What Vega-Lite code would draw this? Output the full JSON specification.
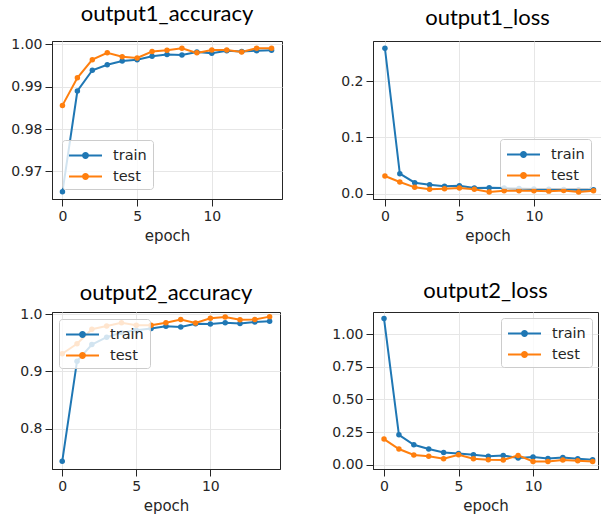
{
  "$schema": "https://vega.github.io/schema/vega-lite/v6.json",
  "background": "white",
  "padding": {"left": 10, "top": 2, "right": 0, "bottom": 2},
  "config": {
    "view": {"stroke": "#262626", "strokeWidth": 1},
    "axis": {
      "labelFont": "DejaVu Sans", "labelFontSize": 14, "labelColor": "#262626",
      "titleFont": "DejaVu Sans", "titleFontSize": 15, "titleFontWeight": "normal", "titleColor": "#262626",
      "tickColor": "#262626", "tickSize": 7, "domainColor": "#262626",
      "gridColor": "#e6e6e6", "labelPadding": 3, "titlePadding": 5
    },
    "title": {"font": "Lato", "fontSize": 22, "fontWeight": "normal", "color": "black", "baseline": "alphabetic", "offset": 11, "frame": "group", "anchor": "middle"},
    "legend": {
      "title": null, "fillColor": "rgba(255,255,255,0.8)", "strokeColor": "#cccccc", "cornerRadius": 3,
      "padding": 6, "rowPadding": 5, "offset": 8, "labelFont": "DejaVu Sans", "labelFontSize": 14.5, "labelColor": "#262626",
      "symbolType": "M-2,0H2M-0.3,0A0.3,0.3,0,1,0,0.3,0A0.3,0.3,0,1,0,-0.3,0",
      "symbolSize": 272, "symbolStrokeWidth": 2, "symbolOffset": 8, "labelOffset": 18, "zindex": 1
    }
  },
  "datasets": {
    "p1": [
      {"epoch":0,"series":"train","value":0.9652},{"epoch":1,"series":"train","value":0.9890},{"epoch":2,"series":"train","value":0.9939},{"epoch":3,"series":"train","value":0.9952},{"epoch":4,"series":"train","value":0.9961},{"epoch":5,"series":"train","value":0.9964},{"epoch":6,"series":"train","value":0.9972},{"epoch":7,"series":"train","value":0.9976},{"epoch":8,"series":"train","value":0.9975},{"epoch":9,"series":"train","value":0.9982},{"epoch":10,"series":"train","value":0.9979},{"epoch":11,"series":"train","value":0.9985},{"epoch":12,"series":"train","value":0.9983},{"epoch":13,"series":"train","value":0.9985},{"epoch":14,"series":"train","value":0.9986},
      {"epoch":0,"series":"test","value":0.9856},{"epoch":1,"series":"test","value":0.9921},{"epoch":2,"series":"test","value":0.9964},{"epoch":3,"series":"test","value":0.9980},{"epoch":4,"series":"test","value":0.9971},{"epoch":5,"series":"test","value":0.9968},{"epoch":6,"series":"test","value":0.9983},{"epoch":7,"series":"test","value":0.9986},{"epoch":8,"series":"test","value":0.9991},{"epoch":9,"series":"test","value":0.9980},{"epoch":10,"series":"test","value":0.9987},{"epoch":11,"series":"test","value":0.9987},{"epoch":12,"series":"test","value":0.9982},{"epoch":13,"series":"test","value":0.9991},{"epoch":14,"series":"test","value":0.9991}
    ],
    "p2": [
      {"epoch":0,"series":"train","value":0.2586},{"epoch":1,"series":"train","value":0.0355},{"epoch":2,"series":"train","value":0.0195},{"epoch":3,"series":"train","value":0.0160},{"epoch":4,"series":"train","value":0.0130},{"epoch":5,"series":"train","value":0.0140},{"epoch":6,"series":"train","value":0.0100},{"epoch":7,"series":"train","value":0.0106},{"epoch":8,"series":"train","value":0.0100},{"epoch":9,"series":"train","value":0.0090},{"epoch":10,"series":"train","value":0.0085},{"epoch":11,"series":"train","value":0.0080},{"epoch":12,"series":"train","value":0.0075},{"epoch":13,"series":"train","value":0.0070},{"epoch":14,"series":"train","value":0.0070},
      {"epoch":0,"series":"test","value":0.0314},{"epoch":1,"series":"test","value":0.0207},{"epoch":2,"series":"test","value":0.0112},{"epoch":3,"series":"test","value":0.0077},{"epoch":4,"series":"test","value":0.0089},{"epoch":5,"series":"test","value":0.0100},{"epoch":6,"series":"test","value":0.0077},{"epoch":7,"series":"test","value":0.0030},{"epoch":8,"series":"test","value":0.0053},{"epoch":9,"series":"test","value":0.0050},{"epoch":10,"series":"test","value":0.0050},{"epoch":11,"series":"test","value":0.0045},{"epoch":12,"series":"test","value":0.0055},{"epoch":13,"series":"test","value":0.0030},{"epoch":14,"series":"test","value":0.0050}
    ],
    "p3": [
      {"epoch":0,"series":"train","value":0.7427},{"epoch":1,"series":"train","value":0.918},{"epoch":2,"series":"train","value":0.947},{"epoch":3,"series":"train","value":0.960},{"epoch":4,"series":"train","value":0.968},{"epoch":5,"series":"train","value":0.972},{"epoch":6,"series":"train","value":0.9754},{"epoch":7,"series":"train","value":0.979},{"epoch":8,"series":"train","value":0.978},{"epoch":9,"series":"train","value":0.9836},{"epoch":10,"series":"train","value":0.983},{"epoch":11,"series":"train","value":0.9854},{"epoch":12,"series":"train","value":0.984},{"epoch":13,"series":"train","value":0.9865},{"epoch":14,"series":"train","value":0.988},
      {"epoch":0,"series":"test","value":0.931},{"epoch":1,"series":"test","value":0.9485},{"epoch":2,"series":"test","value":0.974},{"epoch":3,"series":"test","value":0.9795},{"epoch":4,"series":"test","value":0.9854},{"epoch":5,"series":"test","value":0.981},{"epoch":6,"series":"test","value":0.981},{"epoch":7,"series":"test","value":0.9854},{"epoch":8,"series":"test","value":0.991},{"epoch":9,"series":"test","value":0.985},{"epoch":10,"series":"test","value":0.993},{"epoch":11,"series":"test","value":0.9953},{"epoch":12,"series":"test","value":0.9906},{"epoch":13,"series":"test","value":0.991},{"epoch":14,"series":"test","value":0.996}
    ],
    "p4": [
      {"epoch":0,"series":"train","value":1.12},{"epoch":1,"series":"train","value":0.229},{"epoch":2,"series":"train","value":0.153},{"epoch":3,"series":"train","value":0.12},{"epoch":4,"series":"train","value":0.094},{"epoch":5,"series":"train","value":0.0865},{"epoch":6,"series":"train","value":0.076},{"epoch":7,"series":"train","value":0.064},{"epoch":8,"series":"train","value":0.071},{"epoch":9,"series":"train","value":0.051},{"epoch":10,"series":"train","value":0.0585},{"epoch":11,"series":"train","value":0.048},{"epoch":12,"series":"train","value":0.056},{"epoch":13,"series":"train","value":0.046},{"epoch":14,"series":"train","value":0.038},
      {"epoch":0,"series":"test","value":0.196},{"epoch":1,"series":"test","value":0.12},{"epoch":2,"series":"test","value":0.074},{"epoch":3,"series":"test","value":0.064},{"epoch":4,"series":"test","value":0.046},{"epoch":5,"series":"test","value":0.076},{"epoch":6,"series":"test","value":0.046},{"epoch":7,"series":"test","value":0.038},{"epoch":8,"series":"test","value":0.036},{"epoch":9,"series":"test","value":0.071},{"epoch":10,"series":"test","value":0.025},{"epoch":11,"series":"test","value":0.025},{"epoch":12,"series":"test","value":0.036},{"epoch":13,"series":"test","value":0.03},{"epoch":14,"series":"test","value":0.025}
    ]
  },
  "columns": 2,
  "spacing": {"row": 113, "column": 91},
  "bounds": "flush",
  "resolve": {"legend": {"color": "independent"}},
  "concat": [
    {
      "width": 230, "height": 158,
      "title": {"text": "output1_accuracy"},
      "data": {"name": "p1"},
      "mark": {"type": "line", "strokeWidth": 2, "point": {"filled": true, "size": 30}},
      "encoding": {
        "x": {"field": "epoch", "type": "quantitative", "scale": {"domain": [-0.7, 14.7], "nice": false, "zero": false}, "axis": {"values": [0, 5, 10], "format": "d", "title": "epoch"}},
        "y": {"field": "value", "type": "quantitative", "scale": {"domain": [0.9635, 1.0008], "nice": false, "zero": false}, "axis": {"values": [0.97, 0.98, 0.99, 1.0], "format": ".2f", "title": null}},
        "color": {"field": "series", "type": "nominal", "sort": ["train", "test"], "scale": {"domain": ["train", "test"], "range": ["#1f77b4", "#ff7f0e"]},
          "legend": {"orient": "bottom-left", "offset": 10, "encode": {"symbols": {"update": {"fill": {"scale": "color", "field": "value"}}}}}}
      }
    },
    {
      "width": 229, "height": 158,
      "title": {"text": "output1_loss"},
      "data": {"name": "p2"},
      "mark": {"type": "line", "strokeWidth": 2, "point": {"filled": true, "size": 30}},
      "encoding": {
        "x": {"field": "epoch", "type": "quantitative", "scale": {"domain": [-0.8, 14.57], "nice": false, "zero": false}, "axis": {"values": [0, 5, 10], "format": "d", "title": "epoch"}},
        "y": {"field": "value", "type": "quantitative", "scale": {"domain": [-0.0095, 0.2715], "nice": false, "zero": false}, "axis": {"values": [0, 0.1, 0.2], "format": ".1f", "title": null}},
        "color": {"field": "series", "type": "nominal", "sort": ["train", "test"], "scale": {"domain": ["train", "test"], "range": ["#1f77b4", "#ff7f0e"]},
          "legend": {"orient": "bottom-right", "offset": 11, "encode": {"symbols": {"update": {"fill": {"scale": "color", "field": "value"}}}}}}
      }
    },
    {
      "width": 228, "height": 157,
      "title": {"text": "output2_accuracy", "offset": 2},
      "data": {"name": "p3"},
      "mark": {"type": "line", "strokeWidth": 2, "point": {"filled": true, "size": 30}},
      "encoding": {
        "x": {"field": "epoch", "type": "quantitative", "scale": {"domain": [-0.69, 14.7], "nice": false, "zero": false}, "axis": {"values": [0, 5, 10], "format": "d", "title": "epoch"}},
        "y": {"field": "value", "type": "quantitative", "scale": {"domain": [0.7292, 1.0041], "nice": false, "zero": false}, "axis": {"values": [0.8, 0.9, 1.0], "format": ".1f", "title": null}},
        "color": {"field": "series", "type": "nominal", "sort": ["train", "test"], "scale": {"domain": ["train", "test"], "range": ["#1f77b4", "#ff7f0e"]},
          "legend": {"orient": "top-left", "offset": 7, "encode": {"symbols": {"update": {"fill": {"scale": "color", "field": "value"}}}}}}
      }
    },
    {
      "width": 225, "height": 157,
      "title": {"text": "output2_loss", "offset": 9},
      "data": {"name": "p4"},
      "mark": {"type": "line", "strokeWidth": 2, "point": {"filled": true, "size": 30}},
      "encoding": {
        "x": {"field": "epoch", "type": "quantitative", "scale": {"domain": [-0.74, 14.36], "nice": false, "zero": false}, "axis": {"values": [0, 5, 10], "format": "d", "title": "epoch"}},
        "y": {"field": "value", "type": "quantitative", "scale": {"domain": [-0.033, 1.17], "nice": false, "zero": false}, "axis": {"values": [0, 0.25, 0.5, 0.75, 1.0], "format": ".2f", "title": null}},
        "color": {"field": "series", "type": "nominal", "sort": ["train", "test"], "scale": {"domain": ["train", "test"], "range": ["#1f77b4", "#ff7f0e"]},
          "legend": {"orient": "top-right", "offset": 6, "encode": {"symbols": {"update": {"fill": {"scale": "color", "field": "value"}}}}}}
      }
    }
  ]
}
